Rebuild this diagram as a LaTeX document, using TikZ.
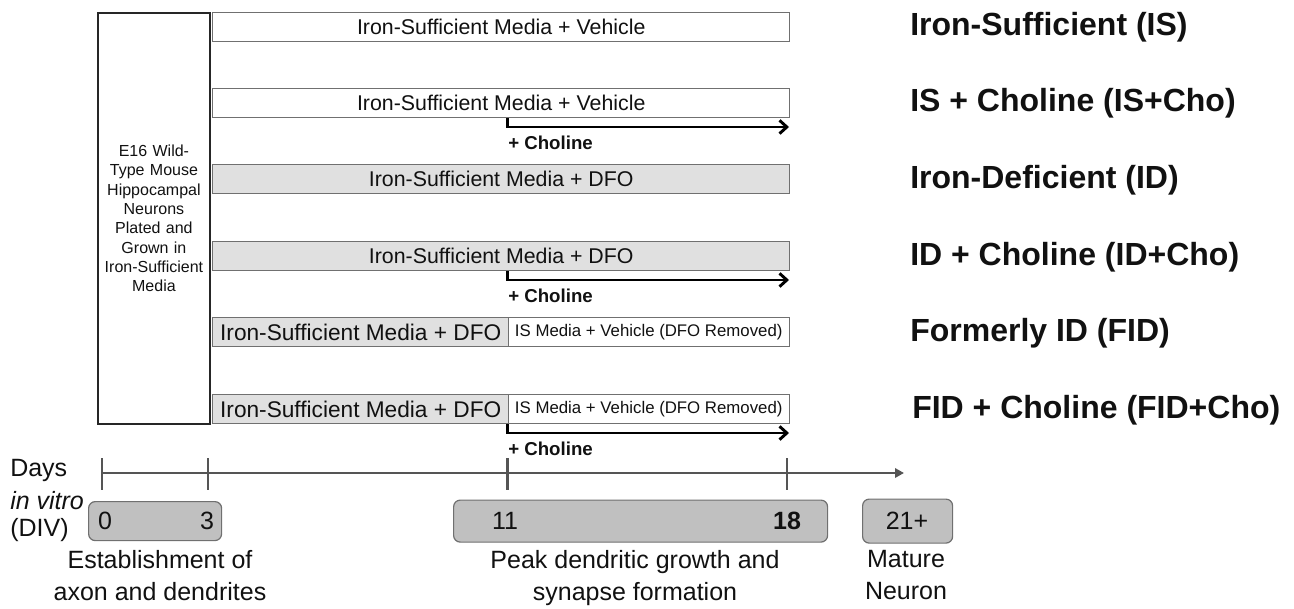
\documentclass[tikz,border=0pt]{standalone}
\usepackage{fontspec}
\setmainfont{Liberation Sans}
\usetikzlibrary{arrows.meta}
\definecolor{barfill}{HTML}{E0E0E0}
\definecolor{barline}{HTML}{707070}
\definecolor{axiscol}{HTML}{555555}
\definecolor{dayfill}{HTML}{C0C0C0}
\definecolor{ink}{HTML}{111111}

\begin{document}
\begin{tikzpicture}[x=0.75pt,y=-0.75pt,
  every node/.style={text=ink},
  platebox/.style={draw=black!85, line width=1.4pt, inner sep=0pt, anchor=north west,
    minimum width=84pt, minimum height=308.25pt, align=center, text width=82pt,
    font=\fontsize{12}{14.5}\selectfont},
  bar/.style={draw=barline, line width=1.1pt, inner sep=0pt, anchor=north west,
    minimum height=21.75pt, font=\fontsize{16}{19}\selectfont},
  fullbar/.style={bar, minimum width=432.75pt},
  vehbar/.style={fullbar, fill=white},
  dfobar/.style={fullbar, fill=barfill},
  dfohalf/.style={bar, fill=barfill, minimum width=222pt, font=\fontsize{17}{20}\selectfont},
  washhalf/.style={bar, fill=white, minimum width=210.75pt, font=\fontsize{12.6}{15}\selectfont},
  addarrow/.style={draw=black, line width=2.2pt, -{Straight Barb[length=5.5pt,width=10pt]}},
  addlabel/.style={anchor=west, inner sep=0pt, font=\fontsize{14}{17}\selectfont\bfseries},
  group/.style={anchor=west, inner sep=0pt, font=\fontsize{24}{29}\selectfont\bfseries},
  axisline/.style={draw=axiscol, line width=2.2pt},
  daybox/.style={draw=barline, fill=dayfill, line width=0.9pt, rounded corners=5pt,
    inner sep=0pt, anchor=north west},
  daytext/.style={inner sep=0pt, font=\fontsize{18.75}{24}\selectfont},
  phase/.style={inner sep=0pt, align=center, anchor=north, font=\fontsize{18.75}{24}\selectfont},
]
\useasboundingbox (0,0) rectangle (1294,609);

% plating box
\node[platebox] (plate) at (97,12) {E16 Wild-\\Type Mouse\\Hippocampal\\Neurons\\Plated and\\Grown in\\Iron-Sufficient\\Media};

% treatment bars
\node[vehbar] (b1) at (212,12)  {Iron-Sufficient Media + Vehicle};
\node[vehbar] (b2) at (212,88)  {Iron-Sufficient Media + Vehicle};
\node[dfobar] (b3) at (212,164) {Iron-Sufficient Media + DFO};
\node[dfobar] (b4) at (212,241) {Iron-Sufficient Media + DFO};
\node[dfohalf] (b5a) at (212,317) {Iron-Sufficient Media + DFO};
\node[washhalf] (b5b) at (507.5,317) {IS Media + Vehicle (DFO Removed)};
\node[dfohalf] (b6a) at (212,394) {Iron-Sufficient Media + DFO};
\node[washhalf] (b6b) at (507.5,394) {IS Media + Vehicle (DFO Removed)};

% timeline
\coordinate (d0)  at (102,473);
\coordinate (d3)  at (208,473);
\coordinate (d11) at (507.5,473);
\coordinate (d18) at (787,473);
\coordinate (dend) at (904,473);
\draw[axisline, -{Triangle[length=6.75pt,width=7pt]}] (d0) -- (dend);
\foreach \t in {d0,d3,d11,d18}
  \draw[axisline] (\t) ++(0,-15) -- ++(0,32);

% choline additions from DIV 11 to DIV 18
\coordinate (c2) at (789,127);
\coordinate (c4) at (789,280);
\coordinate (c6) at (789,433);
\draw[addarrow] (b2.south -| d11) |- (c2);
\draw[addarrow] (b4.south -| d11) |- (c4);
\draw[addarrow] (b6b.south west) |- (c6);
\node[addlabel] (l2) at (508,143) {+ Choline};
\node[addlabel] (l4) at (508,296) {+ Choline};
\node[addlabel] (l6) at (508,449) {+ Choline};

% group names
\node[group] (g1) at (910,27)  {Iron-Sufficient (IS)};
\node[group] (g2) at (910,103) {IS + Choline (IS+Cho)};
\node[group] (g3) at (910,180) {Iron-Deficient (ID)};
\node[group] (g4) at (910,257) {ID + Choline (ID+Cho)};
\node[group] (g5) at (910,333) {Formerly ID (FID)};
\node[group] (g6) at (912,410) {FID + Choline (FID+Cho)};

% axis title
\node[daytext, anchor=west] (tday) at (10,470) {Days};
\node[daytext, anchor=west] (tvit) at (10,501) {\itshape in vitro};
\node[daytext, anchor=west] (tdiv) at (10,530) {(DIV)};

% developmental windows
\node[daybox, minimum width=99.75pt, minimum height=29.25pt] (p1) at (88,501) {};
\node[daybox, minimum width=280.5pt, minimum height=31.5pt] (p2) at (453,499.5) {};
\node[daybox, minimum width=67.5pt, minimum height=33pt] (p3) at (862,498.5) {};
\node[daytext] (n0)  at (105,521) {0};
\node[daytext] (n3)  at (207,521) {3};
\node[daytext] (n11) at (505,521) {11};
\node[daytext] (n18) at (787,521) {\bfseries 18};
\node[daytext] (n21) at (907,521) {21+};

\node[phase] (ph1) at (160,550) {Establishment of\\axon and dendrites};
\node[phase] (ph2) at (635,550) {Peak dendritic growth and\\synapse formation};
\node[phase] (ph3) at (906,550) {Mature\\Neuron};
\end{tikzpicture}
\end{document}
